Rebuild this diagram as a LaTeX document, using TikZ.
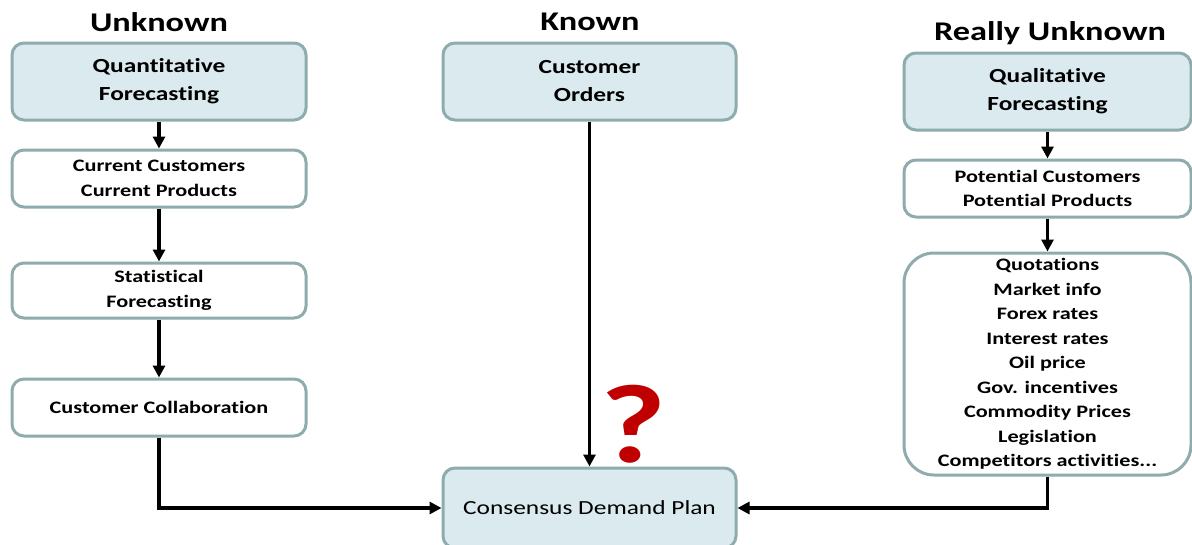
\documentclass[tikz,border=0pt]{standalone}
\usepackage{fontspec}
\setmainfont{Carlito}[FakeStretch=1.27, Ligatures=NoCommon]
\usetikzlibrary{arrows.meta}
\definecolor{boxfill}{HTML}{DAEAEF}
\definecolor{boxline}{HTML}{8FACAD}
\definecolor{qred}{HTML}{C00000}
\tikzset{
  base/.style={draw=boxline, line width=3pt, rounded corners=12pt, align=center, inner sep=0pt},
  bluebox/.style={base, fill=boxfill, font=\fontsize{20}{28}\selectfont\bfseries},
  whitebox/.style={base, fill=white, font=\fontsize{17.5}{24.5}\selectfont\bfseries},
  heading/.style={font=\fontsize{27}{32}\selectfont\bfseries},
  conn/.style={line width=3.5pt, -{Triangle[length=12pt,width=12pt]}}
}
\begin{document}
\begin{tikzpicture}[x=1pt,y=-1pt]
\clip (0,0) rectangle (1192,544);
\fill[white] (0,0) rectangle (1192,544);

\node[heading] (hU) at (159,22) {Unknown};
\node[heading] (hK) at (590,22) {Known};
\node[heading] (hR) at (1050,33) {Really Unknown};

\node[bluebox, minimum width=294pt, minimum height=77pt] (qf) at (159,81.5) {\rule{0pt}{4pt}Quantitative\\Forecasting};
\node[whitebox, minimum width=294pt, minimum height=57pt] (cc) at (159,178.5) {Current Customers\\Current Products};
\node[whitebox, minimum width=294pt, minimum height=55pt] (sf) at (159,290.5) {Statistical\\Forecasting};
\node[whitebox, minimum width=294pt, minimum height=57pt] (cl) at (159,407.5) {Customer Collaboration};

\node[bluebox, minimum width=293pt, minimum height=77pt] (co) at (589.5,81.5) {Customer\\Orders};
\node[bluebox, font=\fontsize{20}{28}\selectfont, minimum width=293pt, minimum height=80pt] (cdp) at (589.5,508) {Consensus Demand Plan};

\node[bluebox, minimum width=287pt, minimum height=77pt] (ql) at (1047.5,91.5) {Qualitative\\Forecasting};
\node[whitebox, minimum width=287pt, minimum height=57pt] (pc) at (1047.5,188.5) {Potential Customers\\Potential Products};
\node[whitebox, rounded corners=30pt, minimum width=287pt, minimum height=222pt] (qt) at (1047.5,364)
  {Quotations\\Market info\\Forex rates\\Interest rates\\Oil price\\Gov. incentives\\Commodity Prices\\Legislation\\Competitors activities...};

\node[text=qred, font=\fontsize{112}{112}\selectfont\bfseries] (qm) at (633,424) {?};

\draw[conn] (qf) -- (cc);
\draw[conn] (cc) -- (sf);
\draw[conn] (sf) -- (cl);
\draw[conn] (cl.south) |- (cdp.west);
\draw[conn] (co.south) -- (co.south |- cdp.north);
\draw[conn] (ql) -- (pc);
\draw[conn] (pc) -- (qt);
\draw[conn] (qt.south) |- (cdp.east);
\end{tikzpicture}
\end{document}
